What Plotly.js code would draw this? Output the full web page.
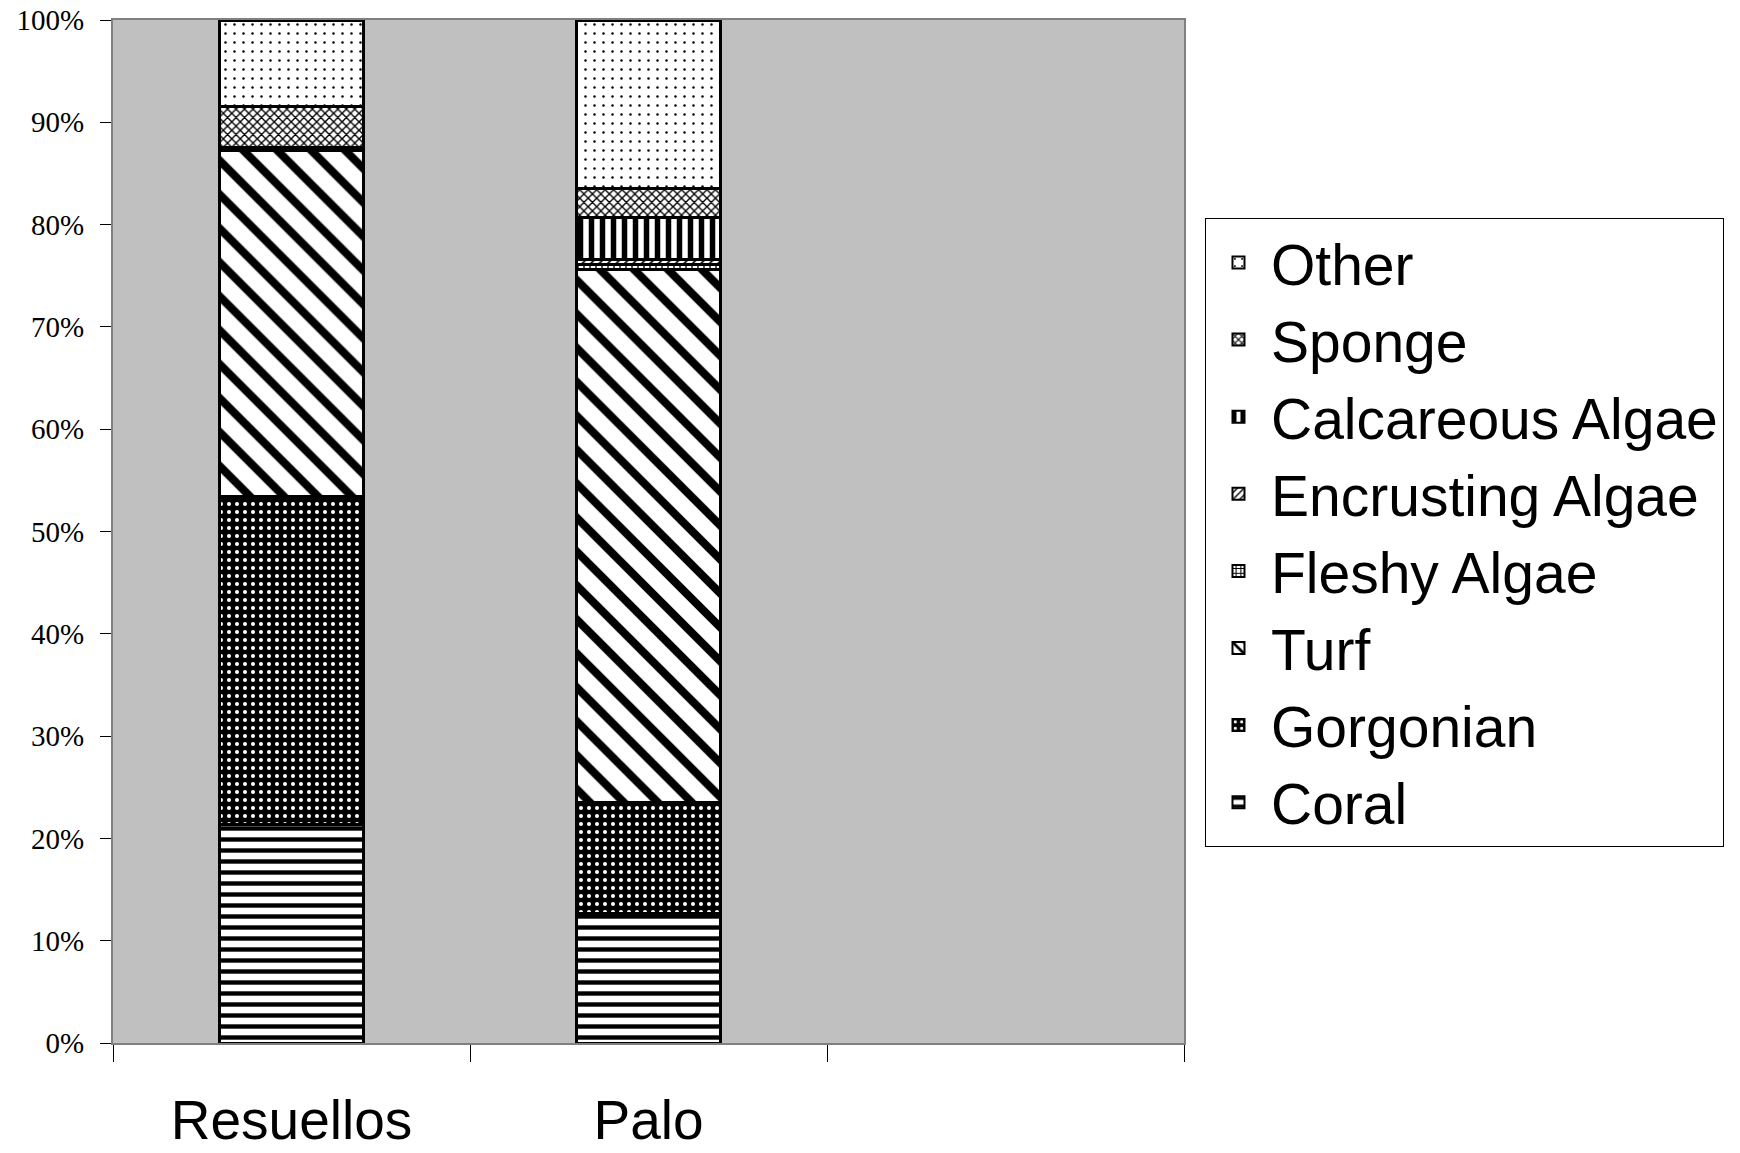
<!DOCTYPE html>
<html>
<head>
<meta charset="utf-8">
<script src="https://cdn.plot.ly/plotly-3.0.1.min.js"></script>
<style>
html,body{margin:0;padding:0;background:#fff;}
#chart{width:1740px;height:1153px;}
</style>
</head>
<body>
<div id="chart"></div>
<script>
// Data (percent of cover)
const sites = ['Resuellos', 'Palo'];
const allCategories = ['Resuellos', 'Palo', ' '];
const coral       = [21.4, 12.7];
const gorgonian   = [32.0, 10.8];
const turf        = [33.8, 52.1];
const fleshyAlgae = [0.3, 0.5];
const encrusting  = [0.0, 0.5];
const calcareous  = [0.0, 4.1];
const sponge      = [4.0, 2.8];
const other       = [8.5, 16.5];
const yTickVals = [0, 10, 20, 30, 40, 50, 60, 70, 80, 90, 100];
const yTickText = ['0%', '10%', '20%', '30%', '40%', '50%', '60%', '70%', '80%', '90%', '100%'];

function bar(name, vals, pattern, bg, fg) {
  return {
    type: 'bar',
    name: name,
    x: sites,
    y: vals,
    marker: {
      color: bg,
      line: {color: '#000', width: 3},
      pattern: Object.assign({fillmode: 'overlay', bgcolor: bg, fgcolor: fg, fgopacity: 1}, pattern)
    },
    hoverinfo: 'name+y'
  };
}

const traces = [
  bar('Coral', coral, {shape: '-', size: 11, solidity: 0.4}, '#fff', '#000'),
  bar('Gorgonian', gorgonian, {shape: '.', size: 8, solidity: 0.2}, '#000', '#fff'),
  bar('Turf', turf, {shape: '\\', size: 24, solidity: 0.34}, '#fff', '#000'),
  bar('Fleshy Algae', fleshyAlgae, {shape: '+', size: 6, solidity: 0.4}, '#fff', '#000'),
  bar('Encrusting Algae', encrusting, {shape: '/', size: 6, solidity: 0.3}, '#fff', '#000'),
  bar('Calcareous Algae', calcareous, {shape: '|', size: 11, solidity: 0.5}, '#fff', '#000'),
  bar('Sponge', sponge, {shape: 'x', size: 6, solidity: 0.4}, '#fff', '#000'),
  bar('Other', other, {shape: '.', size: 9, solidity: 0.06}, '#fff', '#000')
];

const layout = {
  width: 1740,
  height: 1153,
  barmode: 'stack',
  bargap: 0.594,
  paper_bgcolor: '#ffffff',
  plot_bgcolor: '#c0c0c0',
  margin: {l: 113, r: 556, t: 20, b: 110, autoexpand: false},
  showlegend: true,
  legend: {
    x: 1.0196, y: 0.8065, xanchor: 'left', yanchor: 'top',
    traceorder: 'reversed',
    bgcolor: '#ffffff',
    bordercolor: '#000000',
    borderwidth: 1,
    itemwidth: 55,
    font: {family: 'Liberation Sans, Arial, sans-serif', size: 57, color: '#000'},
    itemsizing: 'constant'
  },
  xaxis: {
    type: 'category',
    categoryorder: 'array',
    categoryarray: allCategories,
    range: [-0.5, 2.5],
    tickson: 'boundaries',
    ticks: 'outside',
    ticklen: 17,
    tickwidth: 1,
    tickcolor: '#000',
    ticklabelstandoff: 28,
    tickfont: {family: 'Liberation Sans, Arial, sans-serif', size: 55, color: '#000'},
    showline: true,
    linecolor: '#808080',
    linewidth: 2,
    mirror: true,
    showgrid: false,
    zeroline: false,
    fixedrange: true
  },
  yaxis: {
    range: [0, 100],
    tickvals: yTickVals,
    ticktext: yTickText,
    ticks: 'outside',
    ticklen: 11,
    tickwidth: 1,
    tickcolor: '#000',
    ticklabelstandoff: 10,
    tickfont: {family: 'Liberation Serif, Times New Roman, serif', size: 29, color: '#000'},
    showline: true,
    linecolor: '#808080',
    linewidth: 2,
    mirror: true,
    showgrid: false,
    zeroline: false,
    fixedrange: true
  }
};

Plotly.newPlot('chart', traces, layout, {displayModeBar: false, staticPlot: true});
</script>
</body>
</html>
